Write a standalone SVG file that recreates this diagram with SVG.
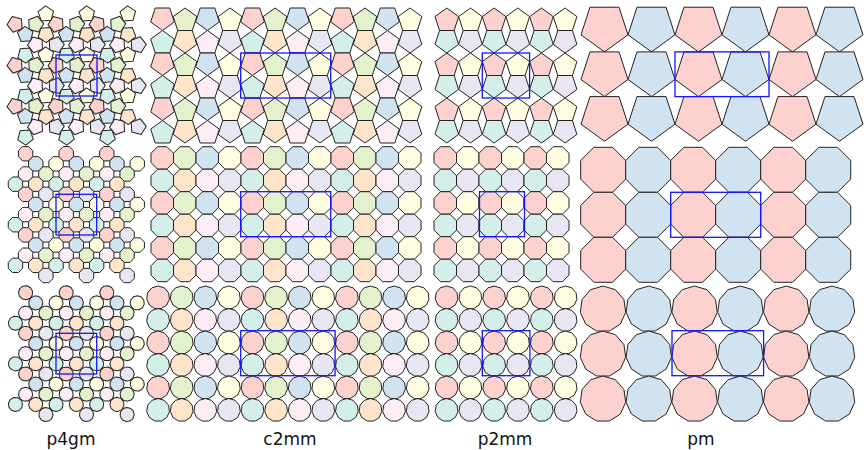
<svg xmlns="http://www.w3.org/2000/svg" width="864" height="450" viewBox="0 0 864 450">
<style>
.cell{fill:none;stroke:#1414ff;stroke-width:1.3}
.lbl{font-family:"DejaVu Sans","Liberation Sans",sans-serif;font-size:17px;fill:#111;text-anchor:middle}
</style>
<defs>
<polygon id="pu" points="0,-12.44 11.83,-3.84 7.31,10.06 -7.31,10.06 -11.83,-3.84" stroke="#222" stroke-width="1" stroke-linejoin="round"/>
<polygon id="pd" points="0,12.44 11.83,3.84 7.31,-10.06 -7.31,-10.06 -11.83,3.84" stroke="#222" stroke-width="1" stroke-linejoin="round"/>
<polygon id="PD" points="0,24.7 23.49,7.63 14.52,-19.98 -14.52,-19.98 -23.49,7.63" stroke="#222" stroke-width="1" stroke-linejoin="round"/>
<polygon id="o8" points="11.25,4.66 4.66,11.25 -4.66,11.25 -11.25,4.66 -11.25,-4.66 -4.66,-11.25 4.66,-11.25 11.25,-4.66" stroke="#222" stroke-width="1" stroke-linejoin="round"/>
<polygon id="O8" points="22.5,9.32 9.32,22.5 -9.32,22.5 -22.5,9.32 -22.5,-9.32 -9.32,-22.5 9.32,-22.5 22.5,-9.32" stroke="#222" stroke-width="1" stroke-linejoin="round"/>
<polygon id="q8" points="7.18,2.97 2.97,7.18 -2.97,7.18 -7.18,2.97 -7.18,-2.97 -2.97,-7.18 2.97,-7.18 7.18,-2.97" stroke="#222" stroke-width="1" stroke-linejoin="round"/>
<polygon id="n" points="0,-11.48 6.21,-9.66 10.44,-4.77 11.36,1.63 8.68,7.52 3.23,11.02 -3.23,11.02 -8.68,7.52 -11.36,1.63 -10.44,-4.77 -6.21,-9.66" stroke="#222" stroke-width="1" stroke-linejoin="round"/>
<polygon id="N" points="0,-22.96 12.41,-19.32 20.88,-9.54 22.73,3.27 17.35,15.04 6.47,22.03 -6.47,22.03 -17.35,15.04 -22.73,3.27 -20.88,-9.54 -12.41,-19.32" stroke="#222" stroke-width="1" stroke-linejoin="round"/>
<polygon id="qn" points="0,-7.1 3.84,-5.97 6.46,-2.95 7.03,1.01 5.37,4.65 2,6.81 -2,6.81 -5.37,4.65 -7.03,1.01 -6.46,-2.95 -3.84,-5.97" stroke="#222" stroke-width="1" stroke-linejoin="round"/>
<polygon id="qp" points="0,-8.2 7.8,-2.53 4.82,6.63 -4.82,6.63 -7.8,-2.53" stroke="#222" stroke-width="1" stroke-linejoin="round"/>

<g id="pmP"><use href="#PD" fill="#fdd2ce"/><use href="#PD" x="47" fill="#d1e2f0"/></g>
<g id="pmO"><use href="#O8" fill="#fdd2ce"/><use href="#O8" x="45" fill="#d1e2f0"/></g>
<g id="pmN"><use href="#N" fill="#fdd2ce"/><use href="#N" x="45.8" fill="#d1e2f0"/></g>

<g id="p2P"><use href="#pu" fill="#fdd2ce"/><use href="#pd" y="20.12" fill="#d4efea"/><use href="#pu" x="23.66" fill="#fefde2"/><use href="#pd" x="23.66" y="20.12" fill="#e7e6f2"/></g>
<g id="p2O"><use href="#o8" fill="#fdd2ce"/><use href="#o8" y="22.5" fill="#d4efea"/><use href="#o8" x="22.5" fill="#fefde2"/><use href="#o8" x="22.5" y="22.5" fill="#e7e6f2"/></g>
<g id="p2N"><use href="#n" fill="#fdd2ce"/><use href="#n" y="22.5" fill="#d4efea"/><use href="#n" x="23.8" fill="#fefde2"/><use href="#n" x="23.8" y="22.5" fill="#e7e6f2"/></g>

<g id="c2P"><use href="#pd" y="10.06" fill="#fdd2ce"/><use href="#pu" y="34.94" fill="#d4efea"/><use href="#pu" x="22.5" y="12.44" fill="#e3f1cc"/><use href="#pd" x="22.5" y="32.56" fill="#fee4ca"/><use href="#pd" x="45" y="10.06" fill="#d1e2f0"/><use href="#pu" x="45" y="34.94" fill="#fdedf5"/><use href="#pu" x="67.5" y="12.44" fill="#fefde2"/><use href="#pd" x="67.5" y="32.56" fill="#e7e6f2"/></g>
<g id="c2O"><use href="#o8" fill="#fdd2ce"/><use href="#o8" y="22.5" fill="#d4efea"/><use href="#o8" x="22.5" fill="#e3f1cc"/><use href="#o8" x="22.5" y="22.5" fill="#fee4ca"/><use href="#o8" x="45" fill="#d1e2f0"/><use href="#o8" x="45" y="22.5" fill="#fdedf5"/><use href="#o8" x="67.5" fill="#fefde2"/><use href="#o8" x="67.5" y="22.5" fill="#e7e6f2"/></g>
<g id="c2N"><use href="#n" fill="#fdd2ce"/><use href="#n" y="22.5" fill="#d4efea"/><use href="#n" x="23.6" fill="#e3f1cc"/><use href="#n" x="23.6" y="22.5" fill="#fee4ca"/><use href="#n" x="47.2" fill="#d1e2f0"/><use href="#n" x="47.2" y="22.5" fill="#fdedf5"/><use href="#n" x="70.8" fill="#fefde2"/><use href="#n" x="70.8" y="22.5" fill="#e7e6f2"/></g>

<g id="p4P">
<use href="#qp" transform="translate(0,-10.25) rotate(15)" fill="#e3f1cc"/>
<use href="#qp" transform="translate(10.25,0) rotate(105)" fill="#fee4ca"/>
<use href="#qp" transform="translate(0,10.25) rotate(195)" fill="#fdedf5"/>
<use href="#qp" transform="translate(-10.25,0) rotate(285)" fill="#d1e2f0"/>
<use href="#qp" transform="translate(10.25,-20.5) rotate(285)" fill="#fefde2"/>
<use href="#qp" transform="translate(20.5,10.25) rotate(15)" fill="#e7e6f2"/>
<use href="#qp" transform="translate(-10.25,20.5) rotate(105)" fill="#d4efea"/>
<use href="#qp" transform="translate(-20.5,-10.25) rotate(195)" fill="#fdd2ce"/>
</g>
<g id="p4O">
<use href="#q8" x="-10.15" y="-20.3" fill="#fdd2ce"/>
<use href="#q8" x="0" y="-10.15" fill="#d1e2f0"/>
<use href="#q8" x="20.3" y="-10.15" fill="#fefde2"/>
<use href="#q8" x="-10.15" y="0" fill="#fdedf5"/>
<use href="#q8" x="10.15" y="0" fill="#e3f1cc"/>
<use href="#q8" x="-20.3" y="10.15" fill="#d4efea"/>
<use href="#q8" x="0" y="10.15" fill="#fee4ca"/>
<use href="#q8" x="10.15" y="20.3" fill="#e7e6f2"/>
</g>
<g id="p4N">
<use href="#qn" transform="translate(-10.15,-20.3) rotate(10)" fill="#fdd2ce"/>
<use href="#qn" transform="translate(0,-10.15) rotate(-10)" fill="#d1e2f0"/>
<use href="#qn" transform="translate(20.3,-10.15) rotate(100)" fill="#fefde2"/>
<use href="#qn" transform="translate(-10.15,0) rotate(260)" fill="#fdedf5"/>
<use href="#qn" transform="translate(10.15,0) rotate(80)" fill="#e3f1cc"/>
<use href="#qn" transform="translate(-20.3,10.15) rotate(280)" fill="#d4efea"/>
<use href="#qn" transform="translate(0,10.15) rotate(170)" fill="#fee4ca"/>
<use href="#qn" transform="translate(10.15,20.3) rotate(190)" fill="#e7e6f2"/>
</g>
</defs>
<rect width="864" height="450" fill="#fff"/>

<g id="p4gm-pentagons" transform="translate(76.65,75.5)">
<use href="#p4P" x="-41" y="-41"/><use href="#p4P" y="-41"/><use href="#p4P" x="41" y="-41"/>
<use href="#p4P" x="-41"/><use href="#p4P"/><use href="#p4P" x="41"/>
<use href="#p4P" x="-41" y="41"/><use href="#p4P" y="41"/><use href="#p4P" x="41" y="41"/>
</g>
<g id="p4gm-octagons" transform="translate(76.35,214.6)">
<use href="#p4O" x="-40.6" y="-40.6"/><use href="#p4O" y="-40.6"/><use href="#p4O" x="40.6" y="-40.6"/>
<use href="#p4O" x="-40.6"/><use href="#p4O"/><use href="#p4O" x="40.6"/>
<use href="#p4O" x="-40.6" y="40.6"/><use href="#p4O" y="40.6"/><use href="#p4O" x="40.6" y="40.6"/>
</g>
<g id="p4gm-11gons" transform="translate(76.35,353.65)">
<use href="#p4N" x="-40.6" y="-40.6"/><use href="#p4N" y="-40.6"/><use href="#p4N" x="40.6" y="-40.6"/>
<use href="#p4N" x="-40.6"/><use href="#p4N"/><use href="#p4N" x="40.6"/>
<use href="#p4N" x="-40.6" y="40.6"/><use href="#p4N" y="40.6"/><use href="#p4N" x="40.6" y="40.6"/>
</g>

<g id="c2mm-pentagons" transform="translate(162.5,8)">
<use href="#c2P"/><use href="#c2P" x="90"/><use href="#c2P" x="180"/>
<use href="#c2P" y="45"/><use href="#c2P" x="90" y="45"/><use href="#c2P" x="180" y="45"/>
<use href="#c2P" y="90"/><use href="#c2P" x="90" y="90"/><use href="#c2P" x="180" y="90"/>
</g>
<g id="c2mm-octagons" transform="translate(162.25,157.95)">
<use href="#c2O"/><use href="#c2O" x="90"/><use href="#c2O" x="180"/>
<use href="#c2O" y="45"/><use href="#c2O" x="90" y="45"/><use href="#c2O" x="180" y="45"/>
<use href="#c2O" y="90"/><use href="#c2O" x="90" y="90"/><use href="#c2O" x="180" y="90"/>
</g>
<g id="c2mm-11gons" transform="translate(158.1,297.5)">
<use href="#c2N"/><use href="#c2N" x="94.4"/><use href="#c2N" x="188.8"/>
<use href="#c2N" y="45"/><use href="#c2N" x="94.4" y="45"/><use href="#c2N" x="188.8" y="45"/>
<use href="#c2N" y="90"/><use href="#c2N" x="94.4" y="90"/><use href="#c2N" x="188.8" y="90"/>
</g>

<g id="p2mm-pentagons" transform="translate(446.8,20.44)">
<use href="#p2P"/><use href="#p2P" x="47.32"/><use href="#p2P" x="94.64"/>
<use href="#p2P" y="45"/><use href="#p2P" x="47.32" y="45"/><use href="#p2P" x="94.64" y="45"/>
<use href="#p2P" y="90"/><use href="#p2P" x="47.32" y="90"/><use href="#p2P" x="94.64" y="90"/>
</g>
<g id="p2mm-octagons" transform="translate(445.25,157.95)">
<use href="#p2O"/><use href="#p2O" x="45"/><use href="#p2O" x="90"/>
<use href="#p2O" y="45"/><use href="#p2O" x="45" y="45"/><use href="#p2O" x="90" y="45"/>
<use href="#p2O" y="90"/><use href="#p2O" x="45" y="90"/><use href="#p2O" x="90" y="90"/>
</g>
<g id="p2mm-11gons" transform="translate(446.6,297.5)">
<use href="#p2N"/><use href="#p2N" x="47.6"/><use href="#p2N" x="95.2"/>
<use href="#p2N" y="45"/><use href="#p2N" x="47.6" y="45"/><use href="#p2N" x="95.2" y="45"/>
<use href="#p2N" y="90"/><use href="#p2N" x="47.6" y="90"/><use href="#p2N" x="95.2" y="90"/>
</g>

<g id="pm-pentagons" transform="translate(604.5,27.2)">
<use href="#pmP"/><use href="#pmP" x="94"/><use href="#pmP" x="188"/>
<use href="#pmP" y="44.68"/><use href="#pmP" x="94" y="44.68"/><use href="#pmP" x="188" y="44.68"/>
<use href="#pmP" y="89.36"/><use href="#pmP" x="94" y="89.36"/><use href="#pmP" x="188" y="89.36"/>
</g>
<g id="pm-octagons" transform="translate(603.2,169.8)">
<use href="#pmO"/><use href="#pmO" x="90"/><use href="#pmO" x="180"/>
<use href="#pmO" y="45"/><use href="#pmO" x="90" y="45"/><use href="#pmO" x="180" y="45"/>
<use href="#pmO" y="90"/><use href="#pmO" x="90" y="90"/><use href="#pmO" x="180" y="90"/>
</g>
<g id="pm-11gons" transform="translate(603,309)">
<use href="#pmN"/><use href="#pmN" x="91.6"/><use href="#pmN" x="183.2"/>
<use href="#pmN" y="45"/><use href="#pmN" x="91.6" y="45"/><use href="#pmN" x="183.2" y="45"/>
<use href="#pmN" y="90"/><use href="#pmN" x="91.6" y="90"/><use href="#pmN" x="183.2" y="90"/>
</g>

<g id="cells">
<rect class="cell" x="56" y="55" width="41" height="41"/>
<rect class="cell" x="56" y="194.3" width="40.7" height="40.7"/>
<rect class="cell" x="56" y="333.3" width="40.7" height="40.7"/>
<rect class="cell" x="240.7" y="53" width="90" height="45"/>
<rect class="cell" x="240.7" y="191.7" width="90" height="45"/>
<rect class="cell" x="240.7" y="330.7" width="94.4" height="45"/>
<rect class="cell" x="482.3" y="53" width="47.3" height="45"/>
<rect class="cell" x="479.5" y="191.7" width="45" height="45"/>
<rect class="cell" x="482.3" y="330.7" width="47.6" height="45"/>
<rect class="cell" x="675" y="51.9" width="94" height="44.7"/>
<rect class="cell" x="670.7" y="192.3" width="90" height="45"/>
<rect class="cell" x="672" y="330.7" width="91.6" height="45"/>
</g>

<g id="labels">
<text class="lbl" x="71" y="445">p4gm</text>
<text class="lbl" x="290" y="445">c2mm</text>
<text class="lbl" x="505" y="445">p2mm</text>
<text class="lbl" x="701" y="445">pm</text>
</g>
</svg>
